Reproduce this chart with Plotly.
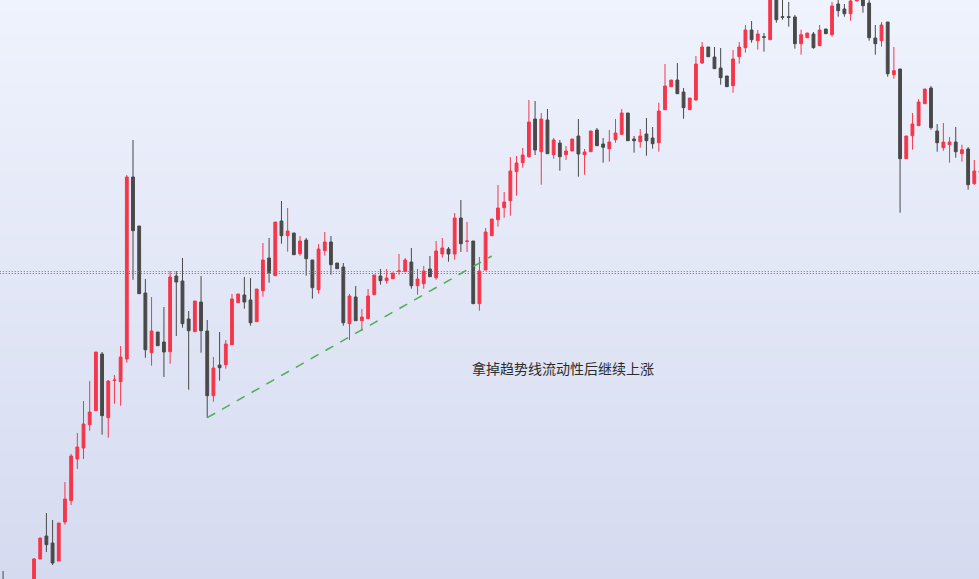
import plotly.graph_objects as go

# candle index (horizontal slot); the slots -4..-1 lie fully below the visible window
idx = [-5] + list(range(154))

opens = [416, 410, 441, 464, 457, 439, 478, 499.3, 541, 552, 575.3,
         589.3, 646, 582.3, 619.5, 618.3, 641, 823, 774, 707, 647.3,
         668, 658, 648.3, 724, 719, 681, 668.3, 698, 669, 604.3,
         635, 635.3, 655.3, 697.3, 705, 700, 678.3, 709.3, 742, 724.3,
         779, 764.3, 767, 746.3, 760, 740, 710.3, 749.3, 758, 737,
         733, 676.3, 703, 679.3, 681.3, 705.3, 724, 719.3, 721.3, 728.5,
         728.3, 738, 714.3, 716.3, 731, 722.3, 746, 751, 746, 782,
         758.5, 759, 696.3, 730, 764.3, 780.3, 792.3, 799.3, 828.3, 837.3,
         843.3, 881, 848.3, 880, 845.3, 857, 845.3, 849, 864, 845.3,
         848.3, 870, 856, 851.3, 860.3, 865.7, 887, 861, 858.3, 866,
         862, 857.3, 890.3, 913.3, 920, 908, 890.3, 900, 937, 953,
         943, 932, 924, 914.3, 943.3, 952.3, 970, 959.3, 963.3, 960.3,
         1003, 983.3, 983.3, 983, 956.3, 962.3, 966, 954.3, 971, 965.3,
         996, 991, 986.3, 999, 1003, 997, 962, 959.3, 978, 925.3,
         931, 841.3, 864.3, 874.3, 896.3, 912, 869, 852.3, 855.3, 858,
         846.3, 851, 816.3, 829]

highs = [429, 442, 462, 487, 480, 477, 518, 546, 567, 599, 619,
         648, 648, 620, 625, 654, 825, 860, 774, 721, 703,
         668, 693, 729, 729, 742, 689, 699, 724, 680, 643,
         668, 660, 706, 706, 723, 722, 711, 757, 762, 778,
         799, 792, 767, 764, 762, 740, 756, 768, 764, 737,
         737, 706, 714, 691, 711, 725, 731, 731, 727, 746,
         742, 752, 731, 734, 744, 759, 762, 753, 787, 800,
         778, 759, 743, 772, 781, 815, 808, 843, 844, 852,
         900, 899, 887, 891, 862, 860, 854, 861, 881, 851,
         869, 872, 862, 870, 881, 891, 887, 864, 871, 882,
         873, 897.3, 936, 920, 937, 912, 902, 944, 958, 953,
         953, 952, 924, 950, 958, 975, 979, 970, 967, 1008,
         1006, 1002, 998, 985, 970.3, 967, 968, 975, 971, 998,
         1003, 996, 1003, 1006, 1008, 1002, 975, 978, 978, 953,
         931, 864, 887, 901, 911, 914, 876, 877, 863, 873,
         855.3, 853, 840, 829]

lows = [400, 404, 441, 448, 435, 439, 475.3, 495, 531, 541, 569.3,
        589.3, 565.3, 562.3, 596.3, 594.3, 637.3, 720.3, 706.3, 642.3, 634.3,
        654.3, 623, 636.3, 664, 672.3, 610.3, 668.3, 647.3, 582.3, 598.3,
        619.3, 631.3, 655.3, 697.3, 691.3, 674.3, 678.3, 703.3, 717.3, 724.3,
        756.3, 748.3, 745.3, 744.3, 724.3, 701.3, 706.3, 744.3, 725.3, 731.3,
        674.3, 660, 679.3, 669.3, 681.3, 705.3, 715.3, 716.3, 721.3, 725.3,
        728.3, 711.3, 705.3, 711.3, 723.3, 720.3, 742.3, 738.3, 740.3, 748,
        748, 696.3, 689.3, 730, 764.3, 773.3, 782.3, 784.3, 804.3, 832.3,
        842.3, 845, 815.3, 846.3, 841.3, 829.3, 840, 849, 823.3, 825.3,
        848.3, 854.3, 837.3, 838.3, 857.3, 865.7, 859.3, 847.3, 852.3, 844.3,
        851.3, 848.3, 890.3, 913.3, 906.3, 881.3, 890.3, 899.3, 936, 943.3,
        931.3, 915.3, 913.3, 907.3, 936.3, 947.3, 957.3, 950.3, 948.3, 960.3,
        977.3, 980.3, 973.3, 951.3, 945.3, 962.3, 951.3, 954.3, 966.3, 963.3,
        983.3, 983.3, 979.3, 999, 987.3, 959.3, 945.3, 953.3, 923.3, 921.3,
        787.3, 841.3, 850.3, 874.3, 896.3, 870.3, 848.3, 849.3, 837.3, 842.3,
        838.3, 810.3, 815.3, 827.5]

closes = [408, 441, 462, 455.3, 437, 477, 501, 544, 553, 576, 588,
          648, 584.3, 619, 620, 643, 823, 769.3, 706.3, 650.3, 669,
          654.3, 648, 723, 718, 676.3, 669.3, 699, 669.3, 604.3, 632,
          632.3, 656, 701, 706, 698, 677.3, 711, 740, 727.3, 778,
          764.3, 769, 745.3, 759, 741.3, 712.3, 751, 758, 735.3, 731.3,
          677.3, 704, 679.3, 683, 704, 725, 719.3, 722, 727, 729,
          740, 714.3, 721, 729, 723.3, 749, 752, 746, 782, 756.3,
          759, 696.3, 729, 768, 781, 792, 798, 829, 837, 845,
          878, 850, 881, 846.3, 860, 843.3, 849, 861, 846, 848,
          869, 854.3, 852.7, 858, 867, 887, 859.3, 859.3, 864, 859.3,
          856.3, 889, 914, 920, 906.3, 892.3, 902, 936, 953, 943.3,
          931.3, 922.3, 913.3, 941, 953, 970, 960.3, 966, 962.7, 1004,
          980.3, 982.7, 982.7, 956.3, 965.3, 967, 952.3, 970, 966.3, 994,
          989.3, 986.3, 999, 1002, 994.3, 962.3, 956.3, 975, 926.3, 929.3,
          841.3, 864, 876, 898, 911, 872.3, 857.3, 858, 858, 848.3,
          850.3, 815.3, 829, 827.5]

assert len(idx) == len(opens) == len(highs) == len(lows) == len(closes)

# reference levels and trend line
level_red = 728.5
level_blue = 726.5
trend_x = [28, 74]
trend_y = [582.3, 744]
note_text = "拿掉趋势线流动性后继续上涨"

X_RANGE = [-5.5, 152.76]
Y_RANGE = [421, 1000]

UP = "#F5364A"
DOWN = "#494949"

fig = go.Figure()

# vertical gradient background
fig.add_trace(go.Heatmap(
    x=[X_RANGE[0] - 1, X_RANGE[1] + 2], y=Y_RANGE,
    z=[[0, 0], [1, 1]], zsmooth="best",
    colorscale=[[0, "#D5DAF0"], [1, "#EFF3FD"]],
    showscale=False, hoverinfo="skip"))

for lvl, col in [(level_red, "#E0505C"), (level_blue, "#3F6AE0")]:
    fig.add_trace(go.Scatter(
        x=[X_RANGE[0] - 1, X_RANGE[1] + 2], y=[lvl, lvl], mode="lines",
        line=dict(color=col, width=1, dash="1px,2px"), hoverinfo="skip"))

fig.add_trace(go.Candlestick(
    x=idx, open=opens, high=highs, low=lows, close=closes,
    increasing=dict(line=dict(color=UP, width=1), fillcolor=UP),
    decreasing=dict(line=dict(color=DOWN, width=1), fillcolor=DOWN),
    whiskerwidth=0, hoverinfo="skip"))

fig.add_trace(go.Scatter(
    x=trend_x, y=trend_y, mode="lines",
    line=dict(color="#4CAF50", width=1.5, dash="9px,8px"), hoverinfo="skip"))

fig.add_annotation(
    x=563 / 979, y=1 - 368 / 579, xref="paper", yref="paper",
    text=note_text, showarrow=False, xanchor="center", yanchor="middle",
    font=dict(family="Noto Sans CJK SC", size=14, color="#2B2B2B"))

fig.update_layout(
    width=979, height=579, autosize=False,
    margin=dict(l=0, r=0, t=0, b=0, pad=0),
    paper_bgcolor="#E3E7F7", plot_bgcolor="#E3E7F7",
    showlegend=False, boxgap=0.35,
    xaxis=dict(visible=False, range=X_RANGE, rangeslider=dict(visible=False), fixedrange=True),
    yaxis=dict(visible=False, range=Y_RANGE, fixedrange=True),
)

fig.write_html(
    "out.html",
    config={"displayModeBar": False, "staticPlot": True},
    post_script="document.body.style.margin='0';document.body.style.overflow='hidden';",
)

# make sure the page itself adds no margin around the figure
with open("out.html", "r", encoding="utf-8") as f:
    html = f.read()
html = html.replace("<head>", "<head><style>html,body{margin:0;padding:0;overflow:hidden;}</style>", 1)
with open("out.html", "w", encoding="utf-8") as f:
    f.write(html)
